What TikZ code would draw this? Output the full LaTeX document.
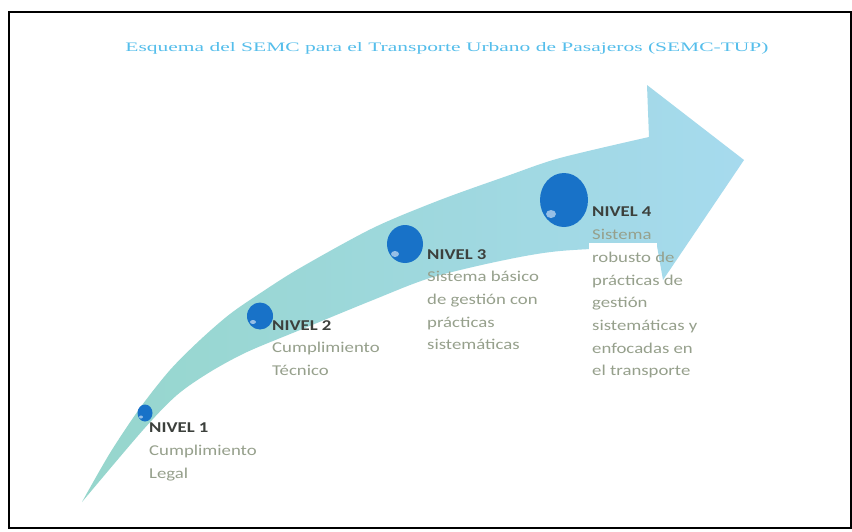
\documentclass[tikz,border=0pt]{standalone}
\usepackage{fontspec}
\usepackage{graphicx}
\usetikzlibrary{shapes.geometric}
\newfontfamily\labfont[FakeStretch=1.25]{Carlito}
\newfontfamily\titfont{Liberation Serif}
\definecolor{arrowteal}{RGB}{150,214,204}
\definecolor{arrowblue}{RGB}{166,218,238}
\definecolor{dotblue}{RGB}{24,114,200}
\definecolor{lvlgray}{RGB}{60,64,60}
\definecolor{txtgray}{RGB}{150,160,140}
\definecolor{titblue}{RGB}{85,190,235}
\begin{document}
\begin{tikzpicture}[x=1pt,y=-1pt,
  dotnode/.style={ellipse, fill=dotblue, draw=none, inner sep=0pt},
  shine/.style={fill=white, opacity=0.55},
  lvltext/.style={anchor=north west, inner sep=0pt, align=left, text=txtgray,
    font=\labfont\fontsize{15}{22.7}\selectfont},
  lvlhead/.style={text=lvlgray, font=\bfseries}
]
\useasboundingbox (0,0) rectangle (852,531);
\fill[white] (0,0) rectangle (852,531);
\draw[line width=2.5pt] (9,12) -- (851,12) -- (851,528) -- (9,528) -- cycle;

\node[text=titblue, inner sep=0pt] (title) at (447,48)
  {\resizebox{643pt}{9pt}{\titfont Esquema del SEMC para el Transporte Urbano de Pasajeros (SEMC-TUP)}};

% arrow
\shade[left color=arrowteal, right color=arrowblue]
  plot[smooth, tension=0.5] coordinates {(82,502) (143,430) (177,395) (210,372) (247,352) (300,330) (373,300) (430,278) (500,261) (560,251) (657,246)}
  -- (663,280) -- (744,160) -- (647,85) -- (649,137)
  -- plot[smooth, tension=0.5] coordinates {(649,137) (560,158) (507,176) (440,200) (373,228) (300,268) (262,292) (230,314) (200,340) (170,370) (140,408) (110,453) (82,502)}
  -- cycle;

% white text box of level 4
\fill[white] (589,243) rectangle (657,385);

% dots
\node[dotnode, minimum width=15pt, minimum height=17pt] (d1) at (145,413) {};
\node[dotnode, minimum width=26pt, minimum height=27pt] (d2) at (260,316) {};
\node[dotnode, minimum width=36pt, minimum height=38pt] (d3) at (405,244) {};
\node[dotnode, minimum width=48pt, minimum height=54pt] (d4) at (564,200) {};
\fill[shine] (141,417) ellipse (2 and 1.5);
\fill[shine] (253,322) ellipse (3 and 2);
\fill[shine] (395,254) ellipse (4 and 3);
\fill[shine] (551,214) ellipse (5 and 4);

% texts
\node[lvltext] (t1) at (149,423) {{\color{lvlgray}\bfseries NIVEL 1}\\Cumplimiento\\Legal};
\node[lvltext] (t2) at (272,320) {{\color{lvlgray}\bfseries NIVEL 2}\\Cumplimiento\\Técnico};
\node[lvltext] (t3) at (427,249) {{\color{lvlgray}\bfseries NIVEL 3}\\Sistema básico\\de gestión con\\prácticas\\sistemáticas};
\node[lvltext] (t4) at (592,207) {{\color{lvlgray}\bfseries NIVEL 4}\\Sistema\\robusto de\\prácticas de\\gestión\\sistemáticas y\\enfocadas en\\el transporte};
\end{tikzpicture}
\end{document}
